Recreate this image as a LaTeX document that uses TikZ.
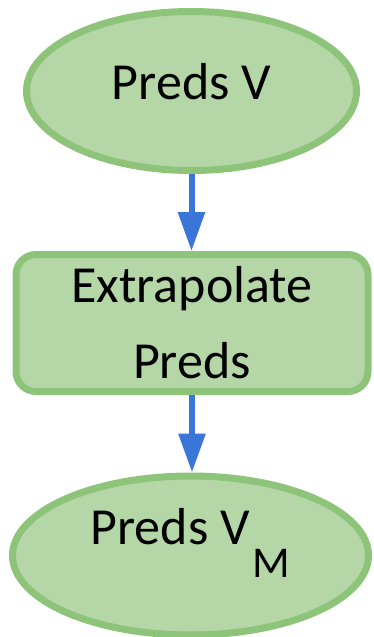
\documentclass[tikz,border=0pt]{standalone}
\usepackage{fontspec}
\setmainfont{Carlito}
\usetikzlibrary{arrows.meta,shapes.geometric}
\definecolor{boxfill}{RGB}{181,215,168}
\definecolor{boxline}{RGB}{141,196,122}
\definecolor{flowblue}{RGB}{58,118,216}
\def\lowsub#1{\kern3pt\raisebox{-33pt}{\fontsize{44}{44}\selectfont #1}}
\tikzset{
	oval/.style={ellipse, draw=boxline, fill=boxfill, line width=7pt, inner sep=0pt,
		minimum width=330pt, minimum height=159pt, font=\fontsize{52}{76}\selectfont},
	stepbox/.style={rectangle, rounded corners=20pt, draw=boxline, fill=boxfill, line width=7pt,
		inner sep=0pt, minimum width=352pt, minimum height=137pt, align=center,
		font=\fontsize{52}{76}\selectfont},
	flow/.style={-{Triangle[length=39pt,width=26pt]}, draw=flowblue, line width=6pt}
}

\begin{document}
\begin{tikzpicture}[x=1pt,y=-1pt]
			%%%%% START %%%%%
			
			\useasboundingbox (0, 0) rectangle (373, 637);
			
			\node[oval, text height=24pt, text depth=8pt] (predsv) at (191.5, 91) {Preds V};
			\node[stepbox] (extrap) at (192, 323) {Extrapolate\\Preds};
			\node[oval, minimum width=356pt, text height=24pt, text depth=46pt] (predsvm) at (190.5, 555.5) {Preds V\lowsub{M}};
			
			\draw[flow] (predsv.south) -- (predsv.south |- extrap.north);
			\draw[flow] (extrap.south) -- (extrap.south |- predsvm.north);
			
			%%%%% END %%%%%
\end{tikzpicture}
\end{document}
